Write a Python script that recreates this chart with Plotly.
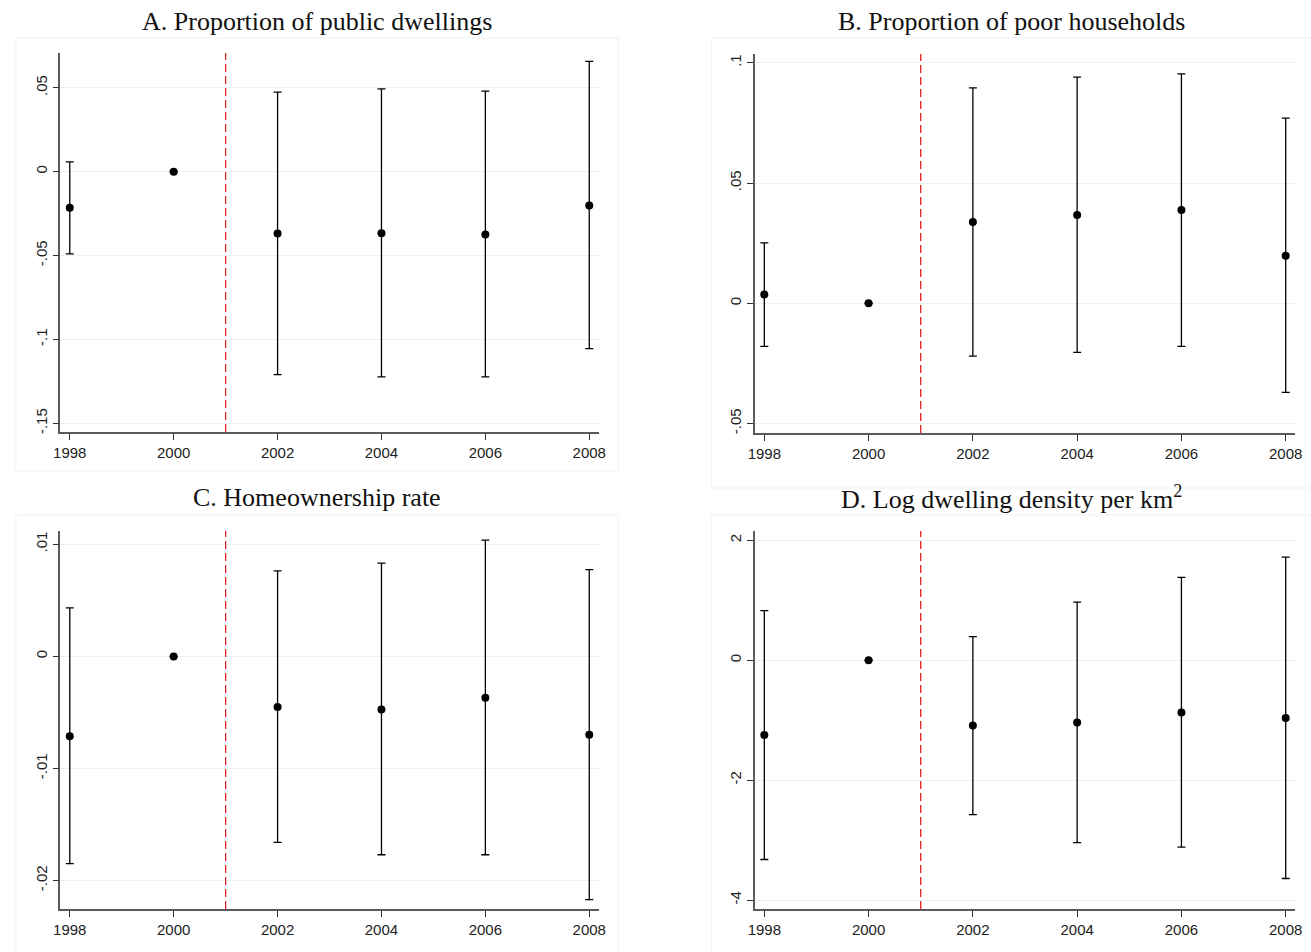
import plotly.graph_objs as go

# Event-study estimates (coef and 95% CI bounds), 2000 is the reference year
years = [1998, 2000, 2002, 2004, 2006, 2008]

a_coef = [-0.0215, 0, -0.0369, -0.0367, -0.0375, -0.0201]
a_lo = [-0.049, None, -0.121, -0.1223, -0.1223, -0.1054]
a_hi = [0.0058, None, 0.0474, 0.0494, 0.048, 0.0657]

b_coef = [0.0036, 0, 0.0338, 0.0367, 0.0388, 0.0198]
b_lo = [-0.0179, None, -0.022, -0.0204, -0.0179, -0.0371]
b_hi = [0.0251, None, 0.0896, 0.094, 0.0954, 0.077]

c_coef = [-0.00712, 0, -0.00451, -0.00475, -0.00368, -0.0070]
c_lo = [-0.0185, None, -0.0166, -0.0177, -0.0177, -0.0217]
c_hi = [0.00433, None, 0.00763, 0.00833, 0.01037, 0.00774]

d_coef = [-1.248, 0, -1.087, -1.037, -0.871, -0.965]
d_lo = [-3.323, None, -2.574, -3.04, -3.118, -3.64]
d_hi = [0.827, None, 0.394, 0.971, 1.381, 1.72]

titles = ['A. Proportion of public dwellings',
          'B. Proportion of poor households',
          'C. Homeownership rate',
          'D. Log dwelling density per km<sup>2</sup>']

a_ticks = [-0.15, -0.1, -0.05, 0, 0.05]
a_labels = ['-.15', '-.1', '-.05', '0', '.05']
b_ticks = [-0.05, 0, 0.05, 0.1]
b_labels = ['-.05', '0', '.05', '.1']
c_ticks = [-0.02, -0.01, 0, 0.01]
c_labels = ['-.02', '-.01', '0', '.01']
d_ticks = [-4, -2, 0, 2]
d_labels = ['-4', '-2', '0', '2']

x_ticks = [1998, 2000, 2002, 2004, 2006, 2008]
treat_year = 2001

W, H = 1311, 952

panels = [
    # coef, lo, hi, ticks, labels, yrange, x px, y px
    (a_coef, a_lo, a_hi, a_ticks, a_labels, [-0.1552, 0.0708], (54, 598), (53, 433)),
    (b_coef, b_lo, b_hi, b_ticks, b_labels, [-0.054, 0.1037], (756, 1302), (54, 434)),
    (c_coef, c_lo, c_hi, c_ticks, c_labels, [-0.02255, 0.0112], (54, 598), (532, 911)),
    (d_coef, d_lo, d_hi, d_ticks, d_labels, [-4.15, 2.158], (756, 1302), (532, 911)),
]
title_pos = [(313, 22), (1015, 22), (313, 499), (1015, 499)]
boxes = [(9, 38, 618, 472), (712, 38, 1320, 489), (9, 516, 618, 960), (712, 516, 1320, 960)]

fig = go.Figure()
layout = dict(
    width=W, height=H,
    margin=dict(l=0, r=0, t=0, b=0),
    paper_bgcolor='white', plot_bgcolor='white',
    showlegend=False,
    annotations=[], shapes=[],
)

for i, (coef, lo, hi, ticks, labels, yr, xpx, ypx) in enumerate(panels):
    n = '' if i == 0 else str(i + 1)
    plus = [None if h is None else h - c for h, c in zip(hi, coef)]
    minus = [None if l is None else c - l for l, c in zip(lo, coef)]
    fig.add_trace(go.Scatter(
        x=years, y=coef, mode='markers',
        marker=dict(color='black', size=8),
        error_y=dict(type='data', array=plus, arrayminus=minus, symmetric=False,
                     color='black', thickness=1.3, width=4),
        xaxis='x' + n, yaxis='y' + n,
    ))
    layout['xaxis' + n] = dict(
        domain=[xpx[0] / W, xpx[1] / W], anchor='y' + n,
        range=[1997.82, 2008.18], tickvals=x_ticks,
        showgrid=False, zeroline=False,
        showline=True, linecolor='#5a5a5a', linewidth=1.5,
        ticks='outside', ticklen=6, tickcolor='#333333', tickwidth=1,
        tickfont=dict(family='Liberation Sans', size=15, color='#222222'),
    )
    layout['yaxis' + n] = dict(
        domain=[1 - ypx[1] / H, 1 - ypx[0] / H], anchor='x' + n,
        range=yr, tickvals=ticks, ticktext=labels, tickangle=-90,
        showgrid=True, gridcolor='#eaf2f3', gridwidth=1, zeroline=False,
        showline=True, linecolor='#5a5a5a', linewidth=1.5,
        ticks='outside', ticklen=6, tickcolor='#333333', tickwidth=1,
        tickfont=dict(family='Liberation Sans', size=15, color='#222222'),
    )
    # treatment year marker
    layout['shapes'].append(dict(
        type='line', xref='x' + n, yref='y' + n + ' domain',
        x0=treat_year, x1=treat_year, y0=0, y1=1,
        line=dict(color='#e0201b', width=1.3, dash='8px,4px'),
    ))
    bx = boxes[i]
    layout['shapes'].append(dict(
        type='rect', xref='paper', yref='paper', layer='below',
        x0=bx[0] / W, x1=bx[2] / W, y0=1 - bx[3] / H, y1=1 - bx[1] / H,
        line=dict(color='#eef3f3', width=1),
    ))
    tx, ty = title_pos[i]
    layout['annotations'].append(dict(
        text=titles[i], xref='paper', yref='paper',
        x=tx / W, y=1 - ty / H, xanchor='center', yanchor='middle',
        showarrow=False,
        font=dict(family='Liberation Serif', size=26, color='#111111'),
    ))

fig.update_layout(**layout)
# page body has an 8px default margin, drop it so the figure fills the window
fig.write_html('out.html', config={'displayModeBar': False},
               post_script="document.body.style.margin='0px';")
